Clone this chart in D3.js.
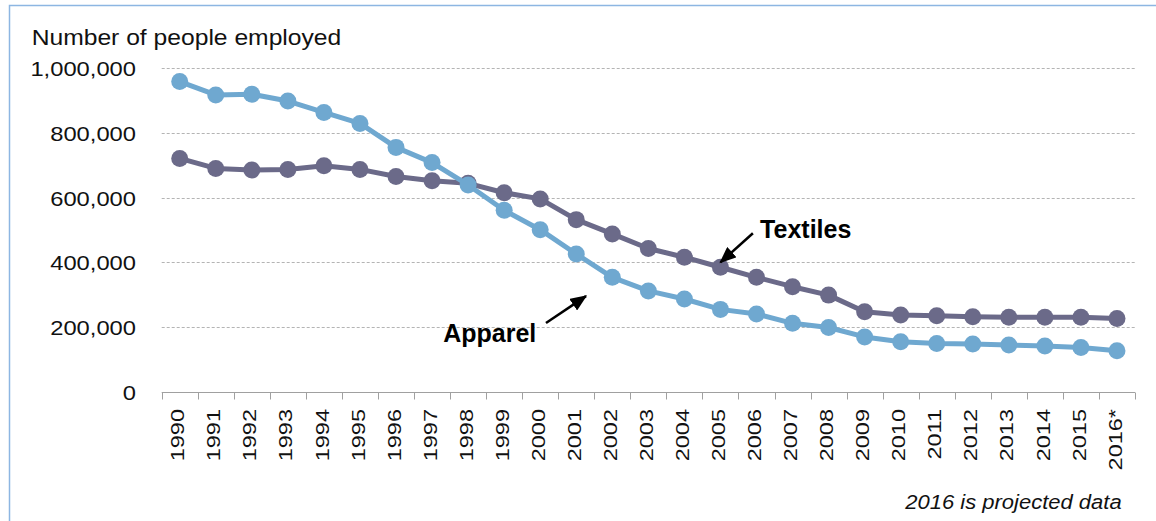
<!DOCTYPE html>
<html>
<head>
<meta charset="utf-8">
<script src="https://cdn.jsdelivr.net/npm/d3@7"></script>
<style>
    body { margin: 0; background: #fff; }
    svg { display: block; font-family: "Liberation Sans", Arial, sans-serif; }
</style>
</head>
<body>
<div id="chart"></div>
<script>
const years = ["1990", "1991", "1992", "1993", "1994", "1995", "1996", "1997", "1998", "1999",
    "2000", "2001", "2002", "2003", "2004", "2005", "2006", "2007", "2008", "2009",
    "2010", "2011", "2012", "2013", "2014", "2015", "2016*"];
// number of people employed
const apparel = [958000, 917000, 919000, 898000, 863000, 829000, 755000, 708000, 639000, 561000,
    501000, 426000, 354000, 312000, 287000, 255000, 241000, 212000, 199000, 170000,
    155000, 150000, 148000, 145000, 142000, 137000, 127000];
const textiles = [721000, 690000, 685000, 687000, 698000, 687000, 665000, 652000, 644000, 615000,
    596000, 532000, 488000, 443000, 416000, 385000, 354000, 325000, 299000, 248000,
    238000, 235000, 232000, 231000, 231000, 231000, 227000];
const yTicks = [0, 200000, 400000, 600000, 800000, 1000000];

const width = 1156;
const height = 521;

const svg = d3
    .select("#chart")
    .append("svg")
    .attr("width", width)
    .attr("height", height);

const x = d3.scaleBand().domain(years).range([161.7, 1135]).padding(0);
const y = d3.scaleLinear().domain([0, 1000000]).range([392, 68]);
const cx = (d) => x(d) + x.bandwidth() / 2;

// stretch text along its baseline, the source font runs wide
function stretch(sel, factor) {
    sel.each(function () {
        const len = this.getComputedTextLength();
        d3.select(this).attr("textLength", len * factor).attr("lengthAdjust", "spacingAndGlyphs");
    });
}

// chart frame (only top and left edges show)
svg.append("path")
    .attr("d", `M9.5,${height} V5.5 H${width}`)
    .attr("fill", "none")
    .attr("stroke", "#8DB6E2")
    .attr("stroke-width", 1.5);

// gridlines
svg.append("g")
    .selectAll("line")
    .data(yTicks.filter((d) => d > 0))
    .enter()
    .append("line")
    .attr("x1", x.range()[0])
    .attr("x2", x.range()[1])
    .attr("y1", (d) => Math.round(y(d)) + 0.5)
    .attr("y2", (d) => Math.round(y(d)) + 0.5)
    .attr("stroke", "#B4B4B4")
    .attr("stroke-dasharray", "3,2");

// y tick labels
const yLabels = svg.append("g")
    .selectAll("text")
    .data(yTicks)
    .enter()
    .append("text")
    .attr("x", 136)
    .attr("y", (d) => y(d) + 8)
    .attr("text-anchor", "end")
    .style("font-size", "21px")
    .style("fill", "#111")
    .text((d) => d3.format(",")(d));
stretch(yLabels, 1.13);

const yTitle = svg.append("text")
    .attr("x", 31.7)
    .attr("y", 45)
    .style("font-size", "22px")
    .style("fill", "#111")
    .text("Number of people employed");
stretch(yTitle, 1.12);

// x axis
const xAxis = svg.append("g")
    .attr("transform", `translate(0,${Math.round(y(0)) + 0.5})`);
xAxis.append("line")
    .attr("x1", x.range()[0])
    .attr("x2", x.range()[1])
    .attr("stroke", "#A0A0A0");
xAxis.selectAll("line.tick")
    .data(years.concat([null]))
    .enter()
    .append("line")
    .attr("class", "tick")
    .attr("x1", (d) => Math.round(d ? x(d) : x.range()[1]) + 0.5)
    .attr("x2", (d) => Math.round(d ? x(d) : x.range()[1]) + 0.5)
    .attr("y1", 0)
    .attr("y2", 7)
    .attr("stroke", "#A0A0A0");

const xLabels = svg.append("g")
    .selectAll("text")
    .data(years)
    .enter()
    .append("text")
    .attr("transform", (d) => `translate(${cx(d)},409) rotate(-90)`)
    .attr("dy", "0.25em")
    .attr("text-anchor", "end")
    .style("font-size", "18.5px")
    .style("fill", "#111")
    .text((d) => d);
stretch(xLabels, 1.27);

// lines and markers
const series = [
    { name: "Textiles", values: textiles, color: "#6B6A89" },
    { name: "Apparel", values: apparel, color: "#6FA8D0" }
];

const line = d3.line()
    .x((d, i) => cx(years[i]))
    .y((d) => y(d));

series.forEach((s) => {
    const g = svg.append("g").attr("class", "series");
    g.append("path")
        .datum(s.values)
        .attr("d", line)
        .attr("fill", "none")
        .attr("stroke", s.color)
        .attr("stroke-width", 5)
        .attr("stroke-linejoin", "round");
    g.selectAll("circle")
        .data(s.values)
        .enter()
        .append("circle")
        .attr("cx", (d, i) => cx(years[i]))
        .attr("cy", (d) => y(d))
        .attr("r", 8.5)
        .attr("fill", s.color);
});

// arrow labels, placed in year / value terms
svg.append("defs")
    .append("marker")
    .attr("id", "head")
    .attr("viewBox", "0 0 12 10")
    .attr("refX", 11)
    .attr("refY", 5)
    .attr("markerWidth", 17)
    .attr("markerHeight", 14)
    .attr("markerUnits", "userSpaceOnUse")
    .attr("orient", "auto")
    .append("path")
    .attr("d", "M0,0 L12,5 L0,10 Z")
    .attr("fill", "#000");

const bx = (year, off) => cx(year) + off * x.bandwidth();
const notes = [
    { label: "Textiles", year: "2005", tip: [0, 400000], tail: [0.9, 490000], text: [1.1, 475000] },
    { label: "Apparel", year: "2001", tip: [0.27, 296000], tail: [-0.84, 213000], text: [-3.69, 155000] }
];

notes.forEach((n) => {
    svg.append("line")
        .attr("x1", bx(n.year, n.tail[0]))
        .attr("y1", y(n.tail[1]))
        .attr("x2", bx(n.year, n.tip[0]))
        .attr("y2", y(n.tip[1]))
        .attr("stroke", "#000")
        .attr("stroke-width", 2.5)
        .attr("marker-end", "url(#head)");
    svg.append("text")
        .attr("x", bx(n.year, n.text[0]))
        .attr("y", y(n.text[1]))
        .style("font-size", "25px")
        .style("font-weight", "bold")
        .style("fill", "#000")
        .text(n.label);
});

const note = svg.append("text")
    .attr("x", 1121.7)
    .attr("y", 509.3)
    .attr("text-anchor", "end")
    .style("font-size", "20px")
    .style("font-style", "italic")
    .style("fill", "#111")
    .text("2016 is projected data");
stretch(note, 1.1);
</script>
</body>
</html>
